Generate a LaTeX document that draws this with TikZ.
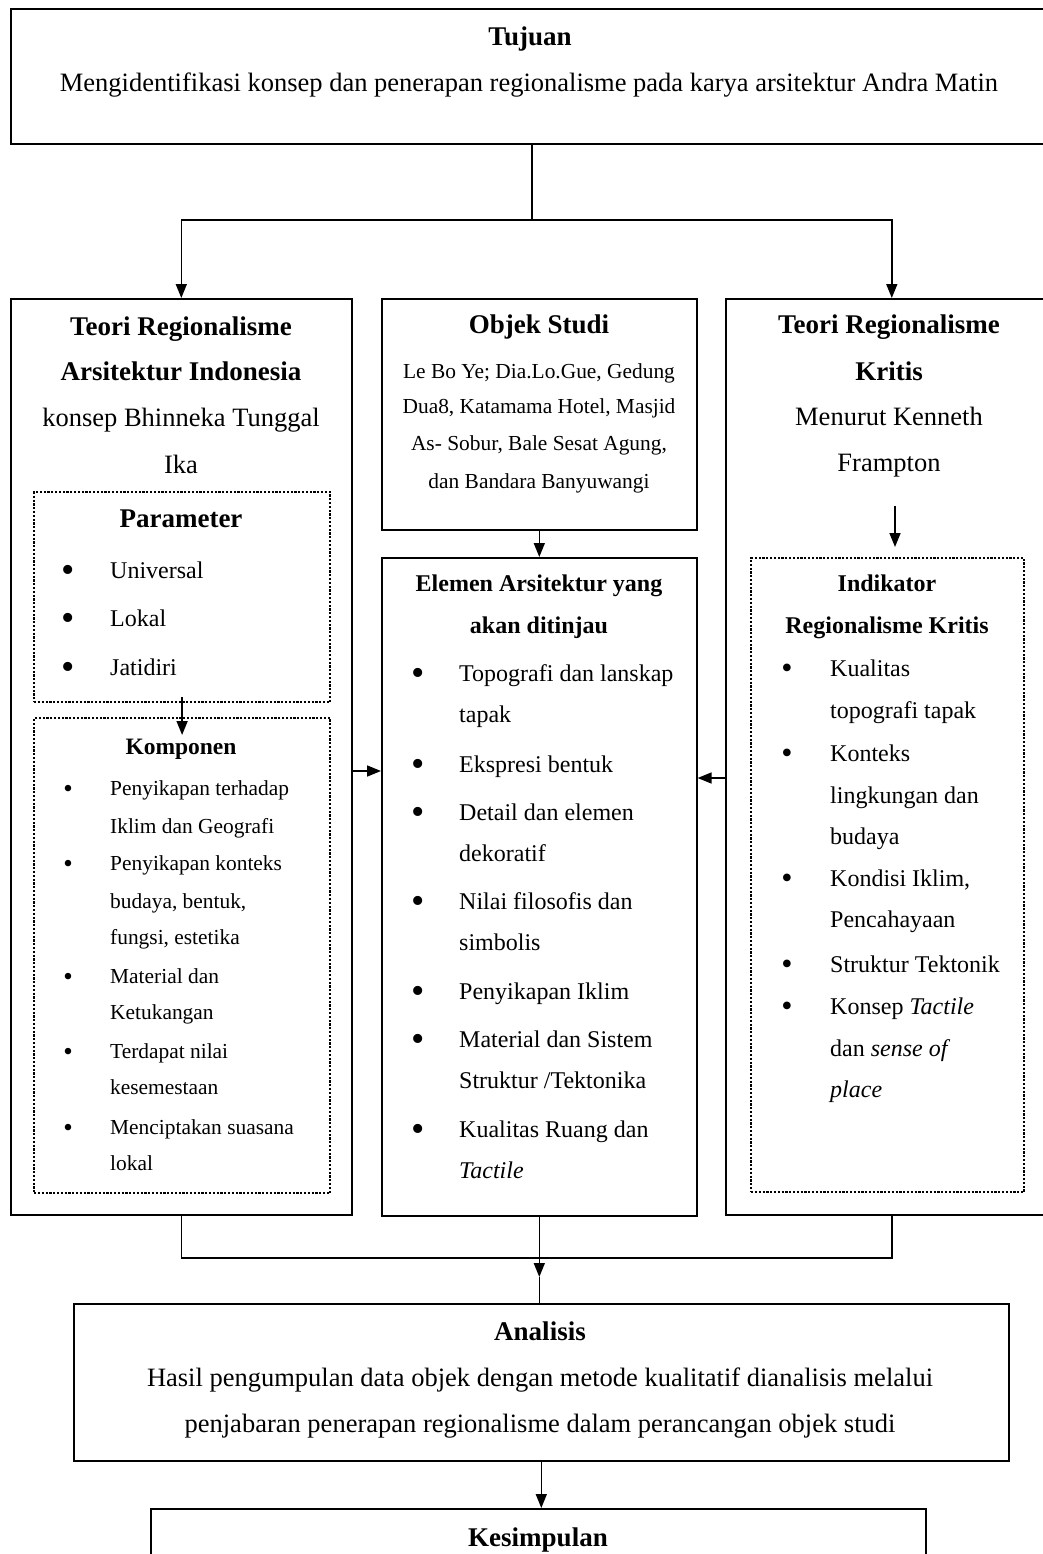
\documentclass[tikz,border=0pt]{standalone}
\usepackage{fontspec}
\setmainfont{Liberation Serif}
\usetikzlibrary{arrows.meta,calc}
\begin{document}
\begin{tikzpicture}[x=1pt,y=-1pt,
 bx/.style={draw, line width=1.6pt, inner sep=0pt, anchor=north west},
 dbx/.style={draw, line width=2.2pt, dash pattern=on 2.2pt off 1.6pt, inner sep=0pt, anchor=north west},
 ln/.style={line width=1.6pt},
 ar/.style={line width=1.6pt, -{Triangle[length=14pt,width=11pt]}},
 T/.style={inner sep=0pt, anchor=mid, yshift=-6pt},
 L/.style={inner sep=0pt, anchor=mid west, yshift=-6pt},
 bulB/.style={inner sep=0pt, anchor=mid, yshift=-10pt, font=\fontsize{38}{40}\selectfont},
 bulC/.style={inner sep=0pt, anchor=mid, yshift=-8pt, font=\fontsize{27}{30}\selectfont},
 fA/.style={font=\fontsize{26.5}{30}\selectfont},
 fAb/.style={font=\fontsize{27}{30}\selectfont\bfseries},
 fB/.style={font=\fontsize{24}{28}\selectfont},
 fBb/.style={font=\fontsize{24}{28}\selectfont\bfseries},
 fC/.style={font=\fontsize{21.4}{25}\selectfont},
 fCb/.style={font=\fontsize{23.5}{28}\selectfont\bfseries},
]
\useasboundingbox (0,0) rectangle (1043,1554);
\clip (0,0) rectangle (1043,1554);

% boxes
\node[bx, minimum width=1050pt, minimum height=135pt] (tuj) at (10,8) {};
\node[bx, minimum width=341pt, minimum height=916pt] (lft) at (10,298) {};
\node[bx, minimum width=315pt, minimum height=231pt] (obj) at (381,298) {};
\node[bx, minimum width=332pt, minimum height=916pt] (rgt) at (725,298) {};
\node[bx, minimum width=315pt, minimum height=658pt] (elem) at (381,557) {};
\node[dbx, minimum width=296pt, minimum height=210pt] (param) at (33,491) {};
\node[dbx, minimum width=296pt, minimum height=475pt] (komp) at (33,717) {};
\node[dbx, minimum width=273pt, minimum height=634pt] (indik) at (750,557) {};
\node[bx, minimum width=935pt, minimum height=157pt] (anal) at (73,1303) {};
\node[bx, minimum width=775pt, minimum height=80pt] (kes) at (150,1508) {};

% connectors
\coordinate (j1) at (532,220);
\draw[ln] (j1 |- tuj.south) -- (j1);
\draw[ar] (j1) -| (lft.north);
\draw[ar] (j1) -| (rgt.north);
\draw[ar] (obj.south) -- (elem.north);
\draw[ar] ([yshift=6pt]param.south) -- ([yshift=-18pt]komp.north);
\coordinate (ra) at (895,506);
\draw[ar] (ra) -- ($(ra |- indik.north)+(0,-10)$);
\coordinate (ha) at (0,771);
\coordinate (hb) at (0,778);
\draw[ar] (lft.east |- ha) -- (elem.west |- ha);
\draw[ar] (rgt.west |- hb) -- (elem.east |- hb);
\coordinate (bj) at (540,1258);
\draw[ln] (lft.south) |- (bj) -| (rgt.south);
\coordinate (am) at (0,1277);
\draw[ar] (elem.south) -- (elem.south |- am);
\draw[ln] (elem.south |- am) -- (elem.south |- anal.north);
\draw[ar] (anal.south) -- (anal.south |- kes.north);

% Tujuan
\node[T,fAb] (t1) at (530,37) {Tujuan};
\node[T,fA] (t2) at (529,83) {Mengidentifikasi konsep dan penerapan regionalisme pada karya arsitektur Andra Matin};

% left
\node[T,fAb] (l1) at (181,327) {Teori Regionalisme};
\node[T,fAb] (l2) at (181,372) {Arsitektur Indonesia};
\node[T,fA] (l3) at (181,418) {konsep Bhinneka Tunggal};
\node[T,fA] (l4) at (181,465) {Ika};
\node[T,fAb] (p0) at (181,519) {Parameter};
\node[bulB] (pb1) at (68,570) {•};
\node[L,fB] (p1) at (110,570) {Universal};
\node[bulB] (pb2) at (68,618) {•};
\node[L,fB] (p2) at (110,618) {Lokal};
\node[bulB] (pb3) at (68,667) {•};
\node[L,fB] (p3) at (110,667) {Jatidiri};

\node[T,fCb] (k0) at (181,746) {Komponen};
\node[bulC] (kb1) at (68,787) {•};
\node[L,fC] (k1) at (110,787) {Penyikapan terhadap};
\node[L,fC] (k2) at (110,825) {Iklim dan Geografi};
\node[bulC] (kb3) at (68,862) {•};
\node[L,fC] (k3) at (110,862) {Penyikapan konteks};
\node[L,fC] (k4) at (110,900) {budaya, bentuk,};
\node[L,fC] (k5) at (110,936) {fungsi, estetika};
\node[bulC] (kb6) at (68,975) {•};
\node[L,fC] (k6) at (110,975) {Material dan};
\node[L,fC] (k7) at (110,1011) {Ketukangan};
\node[bulC] (kb8) at (68,1050) {•};
\node[L,fC] (k8) at (110,1050) {Terdapat nilai};
\node[L,fC] (k9) at (110,1086) {kesemestaan};
\node[bulC] (kb10) at (68,1126) {•};
\node[L,fC] (k10) at (110,1126) {Menciptakan suasana};
\node[L,fC] (k11) at (110,1162) {lokal};

% objek studi
\node[T,fAb] (o0) at (539,325) {Objek Studi};
\node[T,fC] (o1) at (539,370) {Le Bo Ye; Dia.Lo.Gue, Gedung};
\node[T,fC] (o2) at (539,405) {Dua8, Katamama Hotel, Masjid};
\node[T,fC] (o3) at (539,442) {As- Sobur, Bale Sesat Agung,};
\node[T,fC] (o4) at (539,480) {dan Bandara Banyuwangi};

% elemen
\node[T,fBb] (e0a) at (539,583) {Elemen Arsitektur yang};
\node[T,fBb] (e0b) at (539,625) {akan ditinjau};
\node[bulB] (eb1) at (418,673) {•};
\node[L,fB] (e1) at (459,673) {Topografi dan lanskap};
\node[L,fB] (e2) at (459,714) {tapak};
\node[bulB] (eb3) at (418,764) {•};
\node[L,fB] (e3) at (459,764) {Ekspresi bentuk};
\node[bulB] (eb4) at (418,812) {•};
\node[L,fB] (e4) at (459,812) {Detail dan elemen};
\node[L,fB] (e5) at (459,853) {dekoratif};
\node[bulB] (eb6) at (418,901) {•};
\node[L,fB] (e6) at (459,901) {Nilai filosofis dan};
\node[L,fB] (e7) at (459,942) {simbolis};
\node[bulB] (eb8) at (418,991) {•};
\node[L,fB] (e8) at (459,991) {Penyikapan Iklim};
\node[bulB] (eb9) at (418,1039) {•};
\node[L,fB] (e9) at (459,1039) {Material dan Sistem};
\node[L,fB] (e10) at (459,1080) {Struktur /Tektonika};
\node[bulB] (eb11) at (418,1129) {•};
\node[L,fB] (e11) at (459,1129) {Kualitas Ruang dan};
\node[L,fB] (e12) at (459,1170) {\itshape Tactile};

% right
\node[T,fAb] (r1) at (889,325) {Teori Regionalisme};
\node[T,fAb] (r2) at (889,372) {Kritis};
\node[T,fA] (r3) at (889,417) {Menurut Kenneth};
\node[T,fA] (r4) at (889,463) {Frampton};
\node[T,fBb] (i0a) at (887,583) {Indikator};
\node[T,fBb] (i0b) at (887,625) {Regionalisme Kritis};
\node[bulC, font=\fontsize{32}{34}\selectfont] (ib1) at (787,668) {•};
\node[L,fB] (i1) at (830,668) {Kualitas};
\node[L,fB] (i2) at (830,710) {topografi tapak};
\node[bulC, font=\fontsize{32}{34}\selectfont] (ib3) at (787,753) {•};
\node[L,fB] (i3) at (830,753) {Konteks};
\node[L,fB] (i4) at (830,795) {lingkungan dan};
\node[L,fB] (i5) at (830,836) {budaya};
\node[bulC, font=\fontsize{32}{34}\selectfont] (ib6) at (787,878) {•};
\node[L,fB] (i6) at (830,878) {Kondisi Iklim,};
\node[L,fB] (i7) at (830,919) {Pencahayaan};
\node[bulC, font=\fontsize{32}{34}\selectfont] (ib8) at (787,964) {•};
\node[L,fB] (i8) at (830,964) {Struktur Tektonik};
\node[bulC, font=\fontsize{32}{34}\selectfont] (ib9) at (787,1006) {•};
\node[L,fB] (i9) at (830,1006) {Konsep \textit{Tactile}};
\node[L,fB] (i10) at (830,1048) {dan \textit{sense of}};
\node[L,fB] (i11) at (830,1089) {\itshape place};

% analisis
\node[T,fAb] (a0) at (540,1332) {Analisis};
\node[T,fA] (a1) at (540,1378) {Hasil pengumpulan data objek dengan metode kualitatif dianalisis melalui};
\node[T,fA] (a2) at (540,1424) {penjabaran penerapan regionalisme dalam perancangan objek studi};

% kesimpulan
\node[T,fAb] (s0) at (538,1538) {Kesimpulan};
\end{tikzpicture}
\end{document}
